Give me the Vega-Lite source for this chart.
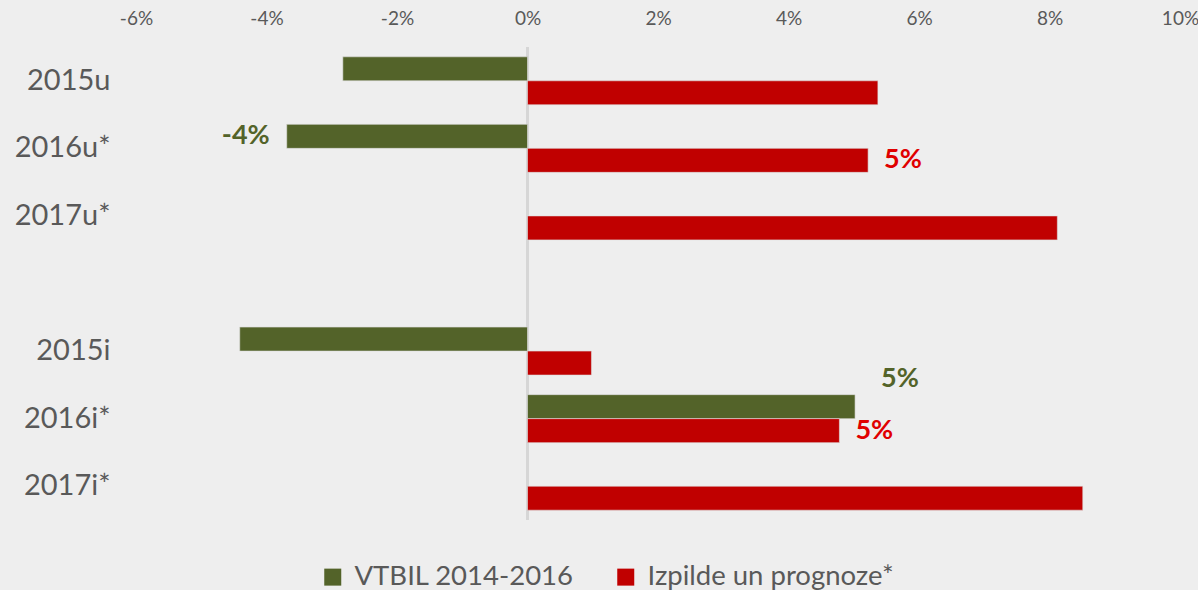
{
  "$schema": "https://vega.github.io/schema/vega-lite/v6.json",
  "autosize": {"type": "none"},
  "width": 1044,
  "height": 473,
  "padding": {"left": 136, "top": 47, "right": 18, "bottom": 70},
  "background": "#eeeeee",
  "config": {
    "view": {"stroke": null},
    "font": "Lato",
    "axis": {"labelFont": "Lato", "labelColor": "#595959", "domain": false, "ticks": false, "grid": false}
  },
  "data": {
    "values": [
      {"cat": "2015u", "series": "VTBIL 2014-2016", "value": -0.0283},
      {"cat": "2015u", "series": "Izpilde un prognoze*", "value": 0.0537},
      {"cat": "2016u*", "series": "VTBIL 2014-2016", "value": -0.0369, "label": "-4%"},
      {"cat": "2016u*", "series": "Izpilde un prognoze*", "value": 0.0522, "label": "5%"},
      {"cat": "2017u*", "series": "Izpilde un prognoze*", "value": 0.0812},
      {"cat": "2015i", "series": "VTBIL 2014-2016", "value": -0.0441},
      {"cat": "2015i", "series": "Izpilde un prognoze*", "value": 0.0098},
      {"cat": "2016i*", "series": "VTBIL 2014-2016", "value": 0.0502, "label": "5%"},
      {"cat": "2016i*", "series": "Izpilde un prognoze*", "value": 0.0478, "label": "5%"},
      {"cat": "2017i*", "series": "Izpilde un prognoze*", "value": 0.0851}
    ]
  },
  "encoding": {
    "y": {
      "field": "cat", "type": "nominal", "title": null,
      "scale": {"domain": ["2015u", "2016u*", "2017u*", " ", "2015i", "2016i*", "2017i*"], "paddingInner": 0.29, "paddingOuter": 0.145},
      "axis": {"labelFontSize": 29, "labelPadding": 26}
    },
    "x": {
      "field": "value", "type": "quantitative", "title": null,
      "scale": {"domain": [-0.06, 0.10], "nice": false},
      "axis": {"orient": "top", "format": ".0%", "labelExpr": "replace(datum.label, '\u2212', '-')", "labelFlush": false, "values": [-0.06, -0.04, -0.02, 0, 0.02, 0.04, 0.06, 0.08, 0.10], "labelFontSize": 19, "labelPadding": 19}
    },
    "yOffset": {"field": "series", "type": "nominal", "scale": {"domain": ["VTBIL 2014-2016", "Izpilde un prognoze*"]}}
  },
  "layer": [
    {
      "mark": {"type": "rule", "color": "#d6d6d6", "strokeWidth": 2},
      "encoding": {"x": {"datum": 0}, "y": null, "yOffset": null}
    },
    {
      "mark": {"type": "bar", "stroke": "#dddddd", "strokeWidth": 0.6},
      "encoding": {
        "color": {
          "field": "series", "type": "nominal",
          "scale": {"domain": ["VTBIL 2014-2016", "Izpilde un prognoze*"], "range": ["#536329", "#c00000"]},
          "legend": {
            "title": null, "orient": "none", "direction": "horizontal", "legendX": 183, "legendY": 516,
            "symbolType": "square", "symbolSize": 289, "symbolStrokeWidth": 0,
            "labelFontSize": 27.5, "labelColor": "#595959", "labelFont": "Lato", "labelOffset": 8, "columnPadding": 38, "labelLimit": 400
          }
        }
      }
    },
    {
      "transform": [{"filter": "datum.label && datum.value < 0"}],
      "mark": {"type": "text", "align": "right", "baseline": "middle", "dx": -17, "fontSize": 27, "fontWeight": "bold", "color": "#536329"},
      "encoding": {"text": {"field": "label"}}
    },
    {
      "transform": [{"filter": "datum.label && datum.series == 'Izpilde un prognoze*'"}],
      "mark": {"type": "text", "align": "left", "baseline": "middle", "dx": 16, "fontSize": 27, "fontWeight": "bold", "color": "#e00000"},
      "encoding": {"text": {"field": "label"}}
    },
    {
      "transform": [{"filter": "datum.label && datum.value > 0 && datum.series == 'VTBIL 2014-2016'"}],
      "mark": {"type": "text", "align": "left", "baseline": "middle", "dx": 26, "dy": -28, "fontSize": 27, "fontWeight": "bold", "color": "#536329"},
      "encoding": {"text": {"field": "label"}}
    }
  ]
}
